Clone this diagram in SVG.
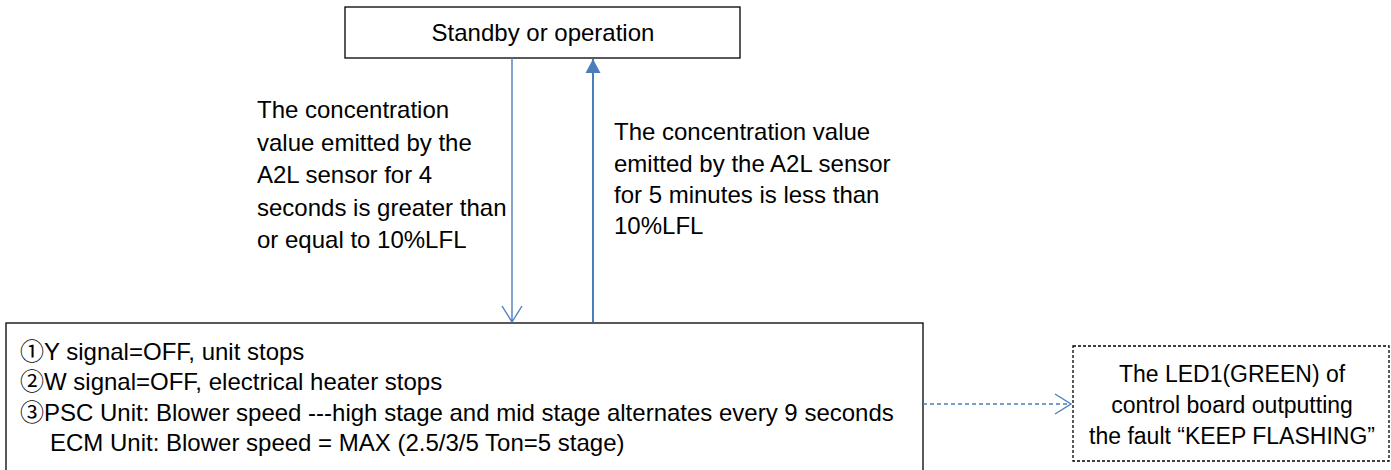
<svg xmlns="http://www.w3.org/2000/svg" width="1391" height="470" viewBox="0 0 1391 470">
<style>
.box{fill:#fff;stroke:#000;stroke-width:1.3}
.dbox{fill:#fff;stroke:#000;stroke-width:1.3;stroke-dasharray:3 2}
.t{font-family:"Liberation Sans","Noto Sans CJK SC",sans-serif;font-size:24px;fill:#000}
.s{font-size:23px}
.c{text-anchor:middle}
.ln{stroke:#4a7ebb;fill:none}
</style>
<defs>
<marker id="open" markerWidth="22" markerHeight="22" refX="11" refY="11" orient="auto" markerUnits="userSpaceOnUse" overflow="visible">
<path d="M-5,1 L11,11 L-5,21" fill="none" stroke="#4a7ebb" stroke-width="1.4"/>
</marker>
<marker id="fill" markerWidth="16" markerHeight="16" refX="14" refY="8" orient="auto" markerUnits="userSpaceOnUse">
<path d="M0,0.5 L14,8 L0,15.5 Z" fill="#4a7ebb"/>
</marker>
</defs>
<g id="node-standby">
<rect class="box" x="345" y="7" width="395" height="51"/>
<text class="t c" x="543" y="41">Standby or operation</text>
</g>
<g id="node-actions">
<rect class="box" x="6" y="323" width="917" height="150"/>
<text class="t" x="20" y="360">①Y signal=OFF, unit stops</text>
<text class="t" x="20" y="390">②W signal=OFF, electrical heater stops</text>
<text class="t" x="20" y="421">③PSC Unit: Blower speed ---high stage and mid stage alternates every 9 seconds</text>
<text class="t" x="50" y="451">ECM Unit: Blower speed = MAX (2.5/3/5 Ton=5 stage)</text>
</g>
<g id="node-led">
<rect class="dbox" x="1073" y="346" width="316" height="115"/>
<text class="t s c" x="1232" y="382">The LED1(GREEN) of</text>
<text class="t s c" x="1232" y="413">control board outputting</text>
<text class="t s c" x="1232" y="444">the fault “KEEP FLASHING”</text>
</g>
<g id="connectors">
<line class="ln" x1="512" y1="58" x2="512" y2="322" stroke-width="1.4" marker-end="url(#open)"/>
<line class="ln" x1="593" y1="322" x2="593" y2="59" stroke-width="2" marker-end="url(#fill)"/>
<line class="ln" x1="923" y1="404" x2="1071" y2="404" stroke-width="1.4" stroke-dasharray="4 3" marker-end="url(#open)"/>
</g>
<g id="label-down">
<text class="t" x="257" y="118">The concentration</text>
<text class="t" x="257" y="151">value emitted by the</text>
<text class="t" x="257" y="183">A2L sensor for 4</text>
<text class="t" x="257" y="216">seconds is greater than</text>
<text class="t" x="257" y="248">or equal to 10%LFL</text>
</g>
<g id="label-up">
<text class="t" x="614" y="140">The concentration value</text>
<text class="t" x="614" y="172">emitted by the A2L sensor</text>
<text class="t" x="614" y="203">for 5 minutes is less than</text>
<text class="t" x="614" y="234">10%LFL</text>
</g>
</svg>
